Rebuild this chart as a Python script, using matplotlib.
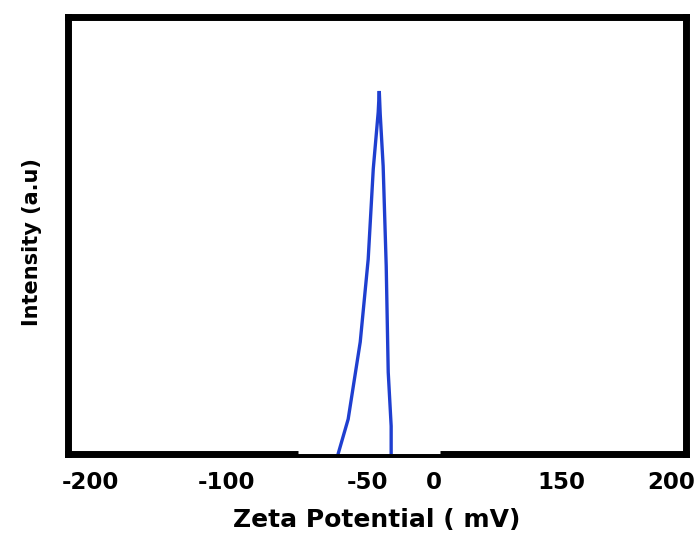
import numpy as np
import matplotlib
matplotlib.use("Agg")
import matplotlib.pyplot as plt
import matplotlib.transforms as mtransforms

# zeta potential trace (mV) and intensity (a.u.)
zeta = [-60.4, -56.8, -52.5, -49.3, -45.5, -41.8, -41.0, -40.3, -38.1, -35.8, -34.3, -32.1, -32.1]
intensity = [0.0, 0.096, 0.308, 0.535, 0.783, 0.939, 0.997, 0.934, 0.791, 0.516, 0.225, 0.077, 0.0]

# faded baseline stretch on the bottom frame
gap_mv = [-74.6, 7.1]

tick_values = [-200, -100, -50, 0, 150, 200]
tick_labels = ["-200", "-100", "-50", "0", "150", "200"]

# the original axis is not linear: map mV onto axis fraction piecewise
scale_mv = [-217, -200, -100, -50, 0, 150, 207]
scale_frac = [0.0, 0.037, 0.257, 0.484, 0.592, 0.798, 1.0]

def fwd(v):
    return np.interp(v, scale_mv, scale_frac)

def inv(f):
    return np.interp(f, scale_frac, scale_mv)

plt.rcParams['font.family'] = ['DejaVu Sans']

fig = plt.figure(figsize=(6.97, 5.33), dpi=100)
ax = fig.add_axes([0.0976, 0.148, 0.887, 0.820])
ax.set_xscale('function', functions=(fwd, inv))
ax.set_xlim(-217, 207)
ax.set_ylim(0, 1.2)

ax.plot(zeta, intensity, color='#1f3fd0', lw=2.4, solid_joinstyle='miter', zorder=4)

# lighten the upper half of the frame where the baseline sits
up = mtransforms.offset_copy(ax.transData, fig=fig, x=0, y=2, units='dots')
ax.plot(gap_mv, [0, 0], color='white', lw=2.2, transform=up, clip_on=False, zorder=3,
        solid_capstyle='butt')

ax.set_xticks(tick_values)
ax.set_xticklabels(tick_labels, fontsize=16.5, fontweight='bold')
ax.set_yticks([])
ax.tick_params(axis='x', length=0, pad=12)
ax.minorticks_off()

for sp in ax.spines.values():
    sp.set_linewidth(5)

ax.set_xlabel("Zeta Potential ( mV)", fontsize=18, fontweight='bold', labelpad=10)
ax.set_ylabel("Intensity (a.u)", fontsize=15, fontweight='bold')
ax.yaxis.set_label_coords(-0.042, 0.485)

fig.savefig("out.png", dpi=100)
